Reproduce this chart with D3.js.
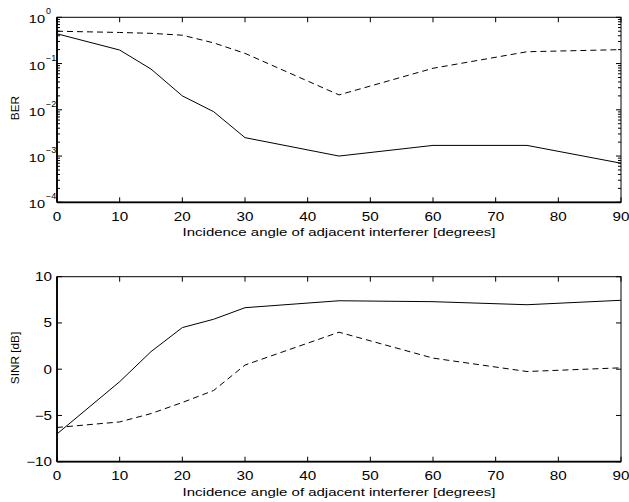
<!DOCTYPE html>
<html>
<head>
<meta charset="utf-8">
<script src="https://cdn.jsdelivr.net/npm/d3@7"></script>
<style>
  body { margin: 0; background: #fff; }
  svg text { font-family: "Liberation Sans", Arial, sans-serif; fill: #000; }
</style>
</head>
<body>
<div id="chart"></div>
<script>
// data
const angles = [0, 10, 15, 20, 25, 30, 45, 60, 75, 90];
const berSolid = [0.44, 0.196, 0.076, 0.020, 0.0091, 0.0025, 0.0010, 0.0017, 0.0017, 0.0007];
const berDashed = [0.50, 0.47, 0.45, 0.41, 0.28, 0.166, 0.021, 0.079, 0.18, 0.20];
const sinrSolid = [-7.0, -1.35, 1.9, 4.5, 5.4, 6.65, 7.4, 7.3, 6.97, 7.45];
const sinrDashed = [-6.3, -5.7, -4.8, -3.6, -2.3, 0.45, 4.0, 1.2, -0.25, 0.15];
const xTicks = [0, 10, 20, 30, 40, 50, 60, 70, 80, 90];
const berExps = [0, -1, -2, -3, -4];
const sinrTicks = [-10, -5, 0, 5, 10];
const xLabel = "Incidence angle of adjacent interferer [degrees]";

const width = 629, height = 502;
const left = 57, right = 621;

const svg = d3.select("#chart").append("svg")
  .attr("width", width).attr("height", height);

const x = d3.scaleLinear().domain([0, 90]).range([left, right]);

// horizontally stretched text (the printed font is a bit wide)
function htext(g, px, py, str, size, anchor, sx = 1.27) {
  return g.append("text").attr("transform", `translate(${px},${py}) scale(${sx},1)`)
    .attr("text-anchor", anchor).attr("font-size", size).text(str);
}

function frame(top, bottom, y, majors, minors, labelFn, yLabel, yLabelY) {
  const g = svg.append("g");
  // ticks on all four sides (matlab box style)
  xTicks.forEach(t => {
    g.append("line").attr("x1", x(t)).attr("x2", x(t)).attr("y1", bottom).attr("y2", bottom - 5).attr("stroke", "#000");
    g.append("line").attr("x1", x(t)).attr("x2", x(t)).attr("y1", top).attr("y2", top + 5).attr("stroke", "#000");
    htext(g, x(t), bottom + 18.5, t, 12, "middle");
  });
  majors.forEach(v => {
    g.append("line").attr("x1", left).attr("x2", left + 5).attr("y1", y(v)).attr("y2", y(v)).attr("stroke", "#000");
    g.append("line").attr("x1", right).attr("x2", right - 5).attr("y1", y(v)).attr("y2", y(v)).attr("stroke", "#000");
    labelFn(g, v);
  });
  minors.forEach(v => {
    g.append("line").attr("x1", left).attr("x2", left + 3).attr("y1", y(v)).attr("y2", y(v)).attr("stroke", "#000");
    g.append("line").attr("x1", right).attr("x2", right - 3).attr("y1", y(v)).attr("y2", y(v)).attr("stroke", "#000");
  });
  g.append("rect").attr("x", left).attr("y", top).attr("width", right - left).attr("height", bottom - top)
    .attr("fill", "none").attr("stroke", "#000").attr("stroke-width", 1);
  g.append("line").attr("x1", left).attr("x2", right).attr("y1", bottom).attr("y2", bottom)
    .attr("stroke", "#000").attr("stroke-width", 1.8);
  g.append("line").attr("x1", left).attr("x2", left).attr("y1", top).attr("y2", bottom)
    .attr("stroke", "#000").attr("stroke-width", 1.8);
  htext(g, (left + right) / 2, bottom + 34, xLabel, 11.8, "middle");
  g.append("text").attr("transform", `translate(19,${yLabelY}) rotate(-90)`)
    .attr("text-anchor", "middle").attr("font-size", 11.8).text(yLabel);
}

function series(y, vals, dashed) {
  const line = d3.line().x((d, i) => x(angles[i])).y(d => y(d));
  svg.append("path").datum(vals).attr("d", line).attr("fill", "none")
    .attr("stroke", "#000").attr("stroke-width", 1)
    .attr("stroke-dasharray", dashed ? "6,4" : null);
}

// top: BER (log)
const top1 = 17.3, bot1 = 202.3;
const yBer = d3.scaleLog().domain([1e-4, 1]).range([bot1, top1]);
const berMinors = [];
[-4, -3, -2, -1].forEach(e => { for (let k = 2; k <= 9; k++) berMinors.push(k * Math.pow(10, e)); });
frame(top1, bot1, yBer, berExps.map(e => Math.pow(10, e)), berMinors, (g, v) => {
  const e = Math.round(Math.log10(v));
  htext(g, 45, yBer(v) + 6, "10", 11.5, "end");
  htext(g, 46, yBer(v) - 3, e < 0 ? "\u2212" + (-e) : e, 8.5, "start", 1.05);
}, "BER", 108);
series(yBer, berSolid, false);
series(yBer, berDashed, true);

// bottom: SINR (linear)
const top2 = 276.7, bot2 = 461.7;
const ySinr = d3.scaleLinear().domain([-10, 10]).range([bot2, top2]);
frame(top2, bot2, ySinr, sinrTicks, [], (g, v) => {
  htext(g, 52, ySinr(v) + 4.5, v < 0 ? "\u2212" + (-v) : v, 12, "end");
}, "SINR [dB]", 358);
series(ySinr, sinrSolid, false);
series(ySinr, sinrDashed, true);
</script>
</body>
</html>
